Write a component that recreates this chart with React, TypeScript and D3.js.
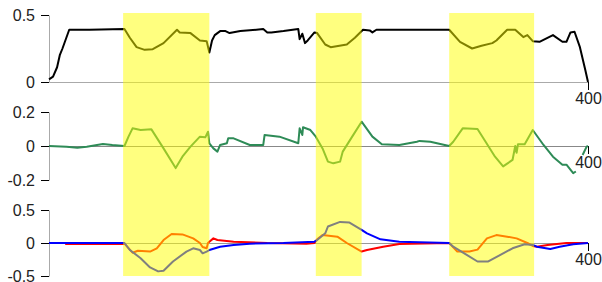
import React, { useEffect, useRef } from "react";
import * as d3 from "d3";

type P = [number, number];

const xDomain: [number, number] = [0, 400];
const xTicks = [400];
const highlightBands: P[] = [[55, 119], [198, 232], [297, 360]];

const topTicks = [0, 0.5];
const midTicks = [-0.2, 0, 0.2];
const botTicks = [-0.5, 0, 0.5];

const blackSeries: P[] = [[0,0.02],[3,0.04],[6,0.11],[8,0.2],[10,0.25],[15,0.39],[30,0.39],[56,0.395],[60,0.33],[65,0.26],[71,0.24],[77,0.245],[85,0.29],[95,0.39],[97,0.37],[105,0.365],[112,0.31],[117,0.305],[119,0.22],[121,0.31],[123,0.35],[127,0.38],[131,0.38],[134,0.365],[142,0.38],[159,0.395],[162,0.37],[165,0.37],[174,0.38],[185,0.395],[186,0.32],[188,0.36],[190,0.29],[192,0.31],[197,0.37],[199,0.365],[205,0.28],[209,0.26],[221,0.28],[227,0.33],[233,0.39],[238,0.385],[240,0.37],[243,0.39],[260,0.39],[297,0.39],[305,0.3],[314,0.25],[321,0.27],[329,0.29],[332,0.31],[340,0.39],[346,0.39],[352,0.335],[355,0.35],[359,0.305],[364,0.3],[374,0.35],[381,0.3],[384,0.3],[387,0.37],[390,0.375],[394,0.26],[398,0.09],[400,0]];

const greenSeries: (P | null)[] = [[0,0],[13,-0.004],[21,-0.01],[28,-0.004],[40,0.012],[47,0.006],[56,0],[59,0.055],[62,0.104],[68,0.094],[76,0.098],[85,-0.014],[94,-0.13],[99,-0.063],[105,-0.004],[112,0.055],[116,0.051],[118,0.084],[119,0.016],[122,-0.014],[125,-0.033],[127,0.006],[132,0.016],[133,0.045],[137,0.045],[149,0.006],[159,0.006],[160,0.065],[171,0.055],[185,0.016],[186,0.104],[188,0.065],[188.5,0.11],[194,0.094],[198,0.055],[203,-0.014],[207,-0.092],[211,-0.102],[216,-0.092],[218,-0.033],[225,0.055],[232,0.143],[240,0.055],[247,0.01],[260,0.006],[273,0.025],[275,0.03],[283,0.025],[297,0],[300,0.025],[307,0.104],[318,0.1],[324,0.025],[331,-0.063],[337,-0.12],[344,-0.082],[346,0],[347,-0.04],[348,0.01],[353,0.01],[359,0.094],[367,0.006],[374,-0.063],[381,-0.11],[384,-0.11],[389,-0.16],[391,-0.15],null,[396,-0.053],[399,-0.004],[400,0]];

const blueSeries: P[] = [[0,0],[56,0],[60,-0.106],[68,-0.23],[75,-0.37],[81,-0.43],[85,-0.42],[92,-0.28],[102,-0.13],[107,-0.08],[112,-0.106],[114,-0.156],[117,-0.13],[119,-0.106],[127,-0.056],[137,-0.03],[149,-0.01],[174,0],[197,0.02],[199,0.045],[205,0.147],[207,0.25],[216,0.32],[223,0.31],[232,0.2],[236,0.147],[246,0.056],[260,0.02],[297,0],[300,-0.056],[310,-0.18],[318,-0.28],[326,-0.28],[335,-0.18],[344,-0.08],[353,-0.02],[359,-0.03],[362,-0.056],[372,-0.09],[379,-0.056],[389,-0.02],[400,0]];

const redSeries: P[] = [[12,-0.015],[56,-0.01],[62,-0.147],[66,-0.117],[75,-0.13],[80,-0.08],[85,0.045],[91,0.136],[99,0.13],[107,0.07],[112,0],[114,-0.06],[117,-0.08],[118,0],[119,0.02],[122,0.07],[125,0.045],[137,0.02],[162,0],[191,-0.01],[197,0],[199,0.055],[203,0.12],[214,0.096],[221,0],[232,-0.13],[236,-0.106],[248,-0.056],[260,-0.015],[297,0],[303,-0.13],[312,-0.13],[318,-0.1],[325,0.07],[332,0.12],[340,0.096],[347,0.07],[355,0],[359,-0.045],[362,-0.056],[370,-0.03],[384,0],[400,0]];

export default function App() {
  const ref = useRef<SVGSVGElement>(null);
  useEffect(() => {
    const svg = d3.select(ref.current);
    svg.selectAll("*").remove();
    const x = d3.scaleLinear().domain(xDomain).range([49, 588]);
    const panels = [
      { y: d3.scaleLinear().domain([0, 0.5]).range([82, 15]), ticks: topTicks, fmt: (d: number) => String(d), axisColor: "#aaa" },
      { y: d3.scaleLinear().domain([-0.2, 0.2]).range([180, 112]), ticks: midTicks, fmt: (d: number) => String(d), axisColor: "#888" },
      { y: d3.scaleLinear().domain([-0.5, 0.5]).range([276, 210]), ticks: botTicks, fmt: (d: number) => String(d), axisColor: "#999" },
    ];
    const font = "Liberation Sans, Arial, sans-serif";
    panels.forEach((p) => {
      const ya = svg.append("g").attr("transform", `translate(${x(0)},0)`)
        .call(d3.axisLeft(p.y).tickValues(p.ticks).tickSize(8).tickSizeOuter(0).tickPadding(6).tickFormat(p.fmt as any));
      ya.select(".domain").attr("stroke", "#aaa");
      ya.selectAll(".tick line").attr("stroke", "#000");
      ya.selectAll("text").attr("font-size", 16).attr("font-family", font).attr("fill", "#222");
      const xa = svg.append("g").attr("transform", `translate(0,${p.y(0)})`)
        .call(d3.axisBottom(x).tickValues(xTicks).tickSize(8).tickSizeOuter(0).tickPadding(3));
      xa.select(".domain").attr("stroke", p.axisColor);
      xa.selectAll(".tick line").attr("stroke", "#000");
      xa.selectAll("text").attr("font-size", 16).attr("font-family", font).attr("fill", "#222");
    });

    const drawLine = (data: (P | null)[], y: d3.ScaleLinear<number, number>, color: string) => {
      const line = d3.line<P | null>()
        .defined((d) => d !== null)
        .x((d) => x((d as P)[0]))
        .y((d) => y((d as P)[1]));
      svg.append("path").datum(data).attr("d", line as any)
        .attr("fill", "none").attr("stroke", color).attr("stroke-width", 2)
        .attr("stroke-linejoin", "round");
    };
    drawLine(blackSeries, panels[0].y, "#000");
    drawLine(greenSeries, panels[1].y, "#2e8b57");
    drawLine(redSeries, panels[2].y, "#ff0000");
    drawLine(blueSeries, panels[2].y, "#0000ff");

    svg.selectAll("rect.band").data(highlightBands).enter().append("rect")
      .attr("class", "band")
      .attr("x", (d) => x(d[0]))
      .attr("width", (d) => x(d[1]) - x(d[0]))
      .attr("y", 13)
      .attr("height", 263)
      .attr("fill", "#ffff00")
      .attr("opacity", 0.5);
  }, []);
  return (
    <svg ref={ref} width={602} height={282}
      style={{ position: "absolute", left: 0, top: 0, background: "#fff" }} />
  );
}
